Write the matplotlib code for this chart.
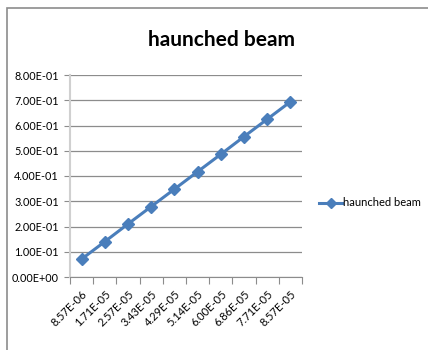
import numpy as np
import matplotlib
matplotlib.use("Agg")
import matplotlib.pyplot as plt
from matplotlib.patches import Rectangle
from matplotlib.ticker import FuncFormatter

plt.rcParams['font.family'] = ['Lato', 'DejaVu Sans']

# data
categories = ['8.57E-06', '1.71E-05', '2.57E-05', '3.43E-05', '4.29E-05',
              '5.14E-05', '6.00E-05', '6.86E-05', '7.71E-05', '8.57E-05']
values = [0.071, 0.140, 0.210, 0.279, 0.348, 0.417, 0.486, 0.556, 0.625, 0.694]
series_name = 'haunched beam'
yticks = [0.0, 0.1, 0.2, 0.3, 0.4, 0.5, 0.6, 0.7, 0.8]

blue = '#4A7EBB'

fig = plt.figure(figsize=(4.28, 3.5), dpi=100)
# chart border
fig.patches.append(Rectangle((7/428, -0.1), 1.2, 1 - 8/350 + 0.1, transform=fig.transFigure,
                             fill=False, edgecolor='#8c8c8c', linewidth=1.2))

ax = fig.add_axes([70/428, 1 - 277/350, 232/428, 202/350])
x = np.arange(len(values)) + 0.5
ax.plot(x, values, color=blue, linewidth=2.2, marker='D', markersize=6.5,
        label=series_name, zorder=3)

ax.set_xlim(0, len(values))
ax.set_ylim(0, 0.8)
ax.set_yticks(yticks)
ax.yaxis.set_major_formatter(FuncFormatter(lambda v, p: '%.2E' % v))
ax.set_xticks(np.arange(len(values) + 1))
ax.set_xticklabels([])
ax.set_xticks(x, minor=True)
ax.set_xticklabels(categories, minor=True, rotation=45, ha='right', va='top',
                   rotation_mode='anchor', fontsize=8)
ax.tick_params(axis='x', which='minor', length=0, pad=8)
ax.tick_params(axis='x', which='major', length=5, color='#8c8c8c', direction='out')
ax.tick_params(axis='y', length=4, color='#8c8c8c', labelsize=7.8, pad=4)

ax.grid(axis='y', color='#8c8c8c', linewidth=0.9)
ax.set_axisbelow(True)
for s in ['top', 'right']:
    ax.spines[s].set_visible(False)
ax.spines['left'].set_color('#d0d0d0')
ax.spines['left'].set_linewidth(1.5)
ax.spines['bottom'].set_color('#8c8c8c')

fig.text(221/428, 1 - 40/350, 'haunched beam', ha='center', va='center',
         fontsize=15, fontweight='bold')

ax.legend(loc='center left', bbox_to_anchor=(319/428, 1 - 203/350),
          bbox_transform=fig.transFigure, frameon=False, fontsize=8,
          handlelength=2.1, handletextpad=0.1, borderaxespad=0, borderpad=0,
          markerscale=0.75)

fig.savefig('out.png', dpi=100)
